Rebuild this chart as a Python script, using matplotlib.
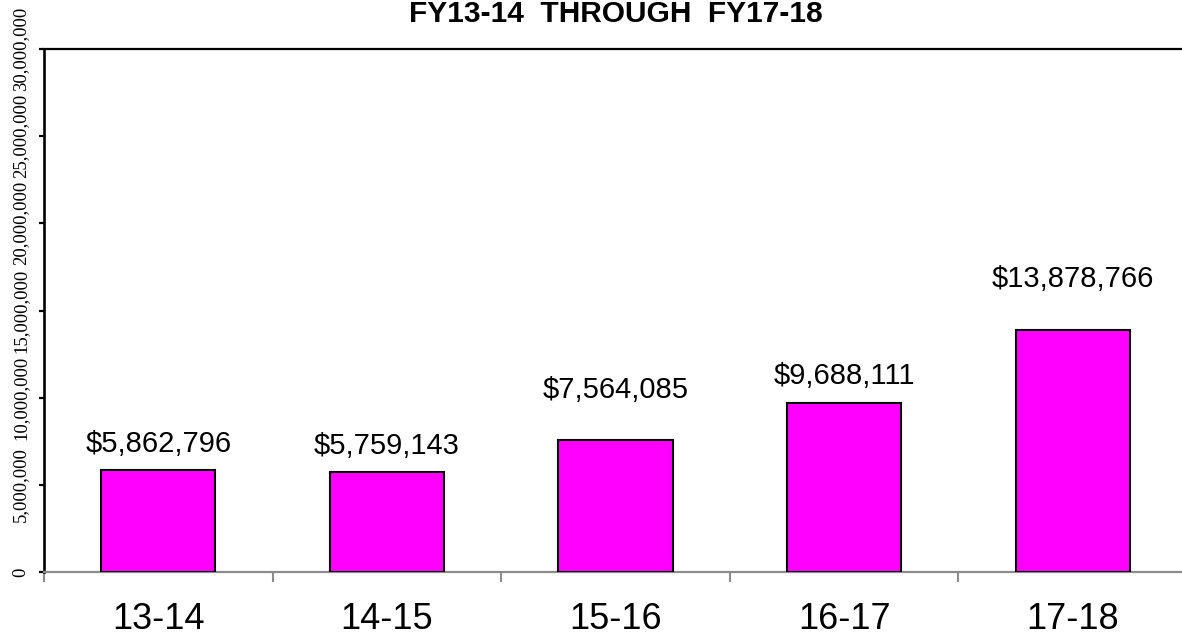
import matplotlib
matplotlib.use("Agg")
import matplotlib.pyplot as plt
from matplotlib.ticker import FixedLocator

years = ["13-14", "14-15", "15-16", "16-17", "17-18"]
amounts = [5862796, 5759143, 7564085, 9688111, 13878766]
y_ticks = [0, 5000000, 10000000, 15000000, 20000000, 25000000, 30000000]

# how far each value label sits above its bar (points), labels were nudged by hand
label_lift = [18.7, 18.7, 36.0, 19.4, 36.7]

fig = plt.figure(figsize=(11.82, 6.37), dpi=100)
ax = fig.add_axes([44 / 1182, 65 / 637, 1143 / 1182, 523 / 637])

x = list(range(len(years)))
ax.bar(x, amounts, width=0.5, color="#ff00ff", edgecolor="black", linewidth=1.5, zorder=3)

for xi, v, lift in zip(x, amounts, label_lift):
    ax.annotate(f"${v:,}", (xi, v), xytext=(0, lift), textcoords="offset points",
                ha="center", va="center", fontsize=21, family="Liberation Sans")

ax.set_xlim(-0.5, len(years) - 0.5)
ax.set_ylim(0, 30000000)

ax.set_xticks(x)
ax.set_xticklabels(years, fontsize=26, family="Liberation Sans")
ax.tick_params(axis="x", which="major", length=0, pad=21.5)
ax.xaxis.set_minor_locator(FixedLocator([i - 0.5 for i in range(len(years) + 1)]))
ax.tick_params(axis="x", which="minor", length=7.5, width=1.5, color="#8c8c8c", direction="out")

ax.set_yticks(y_ticks)
ax.set_yticklabels([f"{t:,}" for t in y_ticks], rotation=90, va="center",
                   fontsize=13.5, family="Liberation Serif")
ax.tick_params(axis="y", length=3.6, width=1.6, color="black", direction="out", pad=7)

ax.spines["right"].set_visible(False)
ax.spines["left"].set_linewidth(1.9)
ax.spines["top"].set_linewidth(1.6)
ax.spines["bottom"].set_color("#8c8c8c")
ax.spines["bottom"].set_linewidth(1.6)

ax.set_title("FY13-14  THROUGH  FY17-18", fontsize=21.5, fontweight="bold",
             family="Liberation Sans", pad=19.5)

fig.savefig("out.png", dpi=100)
